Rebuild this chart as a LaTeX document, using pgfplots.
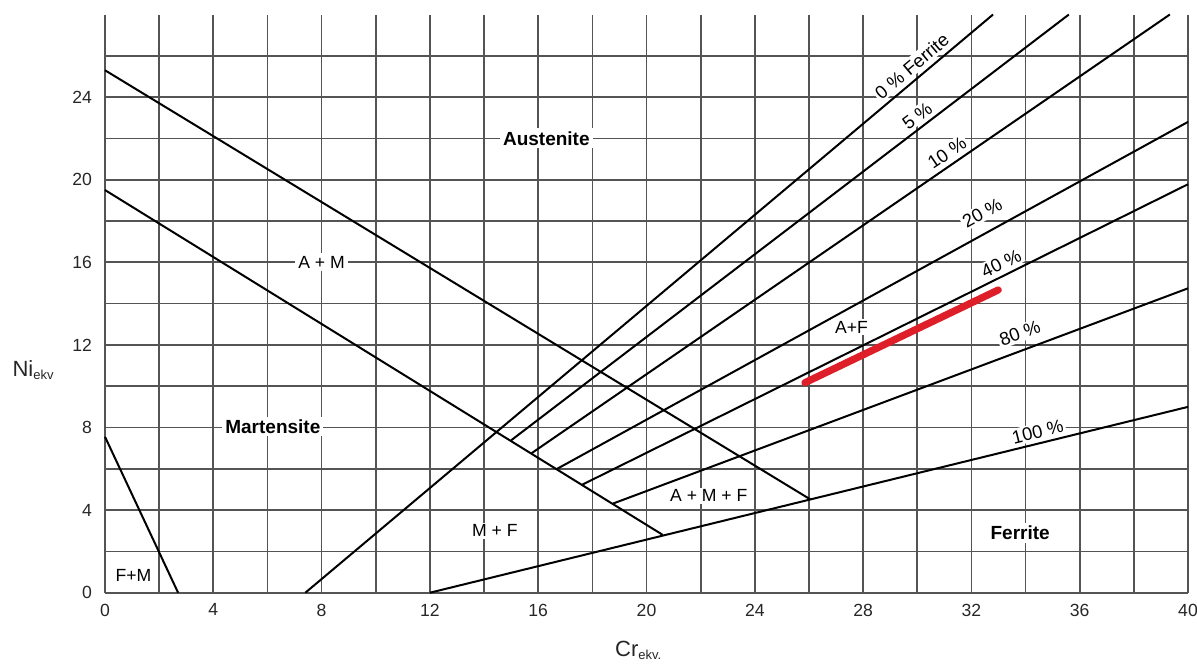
\documentclass[border=0pt]{standalone}
\usepackage{fontspec}
\setmainfont{Liberation Sans}
\usepackage{pgfplots}
\pgfplotsset{compat=1.18}
\definecolor{gridc}{gray}{0.33}
\definecolor{redl}{RGB}{222,30,40}
\begin{document}
\begin{tikzpicture}
\useasboundingbox (-52.5pt,-36.65pt) rectangle (546pt,296.35pt);
\begin{axis}[
  at={(0,0)}, anchor=south west,
  scale only axis, width=541.5pt, height=289.1pt,
  xmin=0, xmax=40, ymin=0, ymax=28,
  xtick={0,4,...,40}, ytick={0,4,...,24},
  minor xtick={2,6,...,38}, minor ytick={2,6,...,26},
  grid=both,
  major grid style={gridc, line width=0.85pt},
  minor grid style={gridc, line width=0.85pt},
  axis line style={draw=none},
  tick style={draw=none},
  tick label style={font=\fontsize{8.8}{10}\selectfont, text=black!85},
  /pgf/number format/assume math mode=true,
  xticklabel style={yshift=-2pt},
  yticklabel style={xshift=-3pt},
  clip=false,
]
% phase boundaries
\addplot[black, line width=1pt] coordinates {(0,7.55) (2.7,0)};
\addplot[black, line width=1pt] coordinates {(0,25.3) (26.05,4.52)};
\addplot[black, line width=1pt] coordinates {(0,19.5) (20.6,2.8)};
\addplot[black, line width=1pt] coordinates {(7.4,0) (32.8,28)};
\addplot[black, line width=1pt] coordinates {(15.0,7.38) (35.6,28)};
\addplot[black, line width=1pt] coordinates {(15.76,6.76) (39.33,28)};
\addplot[black, line width=1pt] coordinates {(16.7,6.0) (40,22.8)};
\addplot[black, line width=1pt] coordinates {(17.64,5.24) (40,19.78)};
\addplot[black, line width=1pt] coordinates {(18.77,4.32) (40,14.74)};
\addplot[black, line width=1pt] coordinates {(12,0) (40,9.0)};
% red line
\addplot[redl, line width=3.6pt, line cap=round] coordinates {(25.85,10.17) (32.99,14.66)};
% region labels
\node[fill=white, inner sep=1.5pt, font=\bfseries\fontsize{9.5}{11}\selectfont] at (axis cs:16.3,22.0) {Austenite};
\node[fill=white, inner sep=1.5pt, font=\fontsize{8.8}{10}\selectfont] at (axis cs:8.0,16.0) {A + M};
\node[fill=white, inner sep=1.5pt, font=\bfseries\fontsize{9.5}{11}\selectfont] at (axis cs:6.2,8.05) {Martensite};
\node[fill=white, inner sep=1pt, font=\fontsize{8.8}{10}\selectfont] at (axis cs:1.05,0.85) {F+M};
\node[fill=white, inner sep=1pt, font=\fontsize{8.8}{10}\selectfont] at (axis cs:14.4,3.0) {M + F};
\node[fill=white, inner sep=1pt, font=\fontsize{8.8}{10}\selectfont] at (axis cs:22.3,4.7) {A + M + F};
\node[fill=white, inner sep=1pt, font=\fontsize{8.8}{10}\selectfont] at (axis cs:27.57,12.85) {A+F};
\node[fill=white, inner sep=1.5pt, font=\bfseries\fontsize{9.5}{11}\selectfont] at (axis cs:33.8,2.9) {Ferrite};
% ferrite percentage labels
\node[fill=white, inner sep=1pt, rotate=40, font=\fontsize{9.2}{10}\selectfont] at (axis cs:29.8,25.5) {0 \% Ferrite};
\node[fill=white, inner sep=1pt, rotate=37, font=\fontsize{9.2}{10}\selectfont] at (axis cs:30.0,23.1) {5 \%};
\node[fill=white, inner sep=1pt, rotate=34, font=\fontsize{9.2}{10}\selectfont] at (axis cs:31.1,21.3) {10 \%};
\node[fill=white, inner sep=1pt, rotate=29, font=\fontsize{9.2}{10}\selectfont] at (axis cs:32.4,18.4) {20 \%};
\node[fill=white, inner sep=1pt, rotate=26, font=\fontsize{9.2}{10}\selectfont] at (axis cs:33.1,15.95) {40 \%};
\node[fill=white, inner sep=1pt, rotate=20, font=\fontsize{9.2}{10}\selectfont] at (axis cs:33.79,12.56) {80 \%};
\node[fill=white, inner sep=1pt, rotate=14, font=\fontsize{9.2}{10}\selectfont] at (axis cs:34.45,7.8) {100 \%};
% axis labels
\node[anchor=base west, inner sep=0pt, text=black!85, font=\fontsize{11}{12}\selectfont] at (axis cs:-3.43,10.46) {Ni\raisebox{-0.25ex}{\fontsize{6.5}{7}\selectfont ekv}};
\node[anchor=base west, inner sep=0pt, text=black!85, font=\fontsize{11}{12}\selectfont] at (axis cs:18.83,-3.10) {Cr\raisebox{-0.25ex}{\fontsize{6.5}{7}\selectfont ekv.}};
\end{axis}
\end{tikzpicture}
\end{document}
